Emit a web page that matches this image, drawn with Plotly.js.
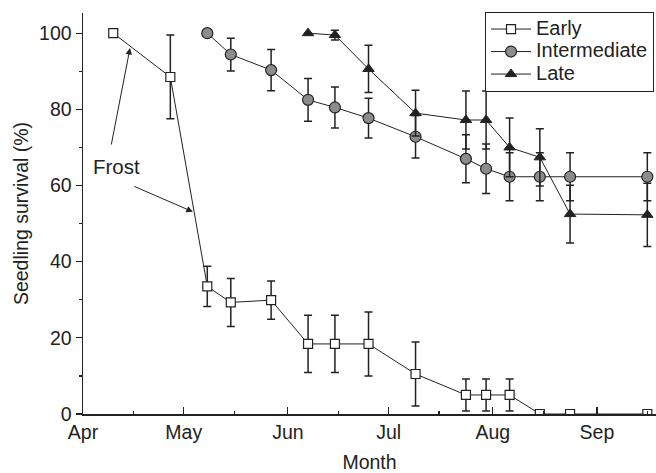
<!DOCTYPE html>
<html>
<head>
<meta charset="utf-8">
<script src="https://cdn.plot.ly/plotly-3.0.1.min.js"></script>
<style>html,body{margin:0;padding:0;background:#fff;}#chart{width:656px;height:473px;}</style>
</head>
<body>
<div id="chart"></div>
<script>
// Dates of census (x values)
const earlyDates = ['2000-04-10','2000-04-27','2000-05-08','2000-05-15','2000-05-27','2000-06-07','2000-06-15','2000-06-25','2000-07-09','2000-07-24','2000-07-30','2000-08-06','2000-08-15','2000-08-24','2000-09-16'];
const earlyValues = [100, 88.5, 33.5, 29.3, 29.9, 18.4, 18.4, 18.4, 10.5, 5, 5, 5, 0, 0, 0];
const earlyErr = [0, 11, 5.3, 6.3, 5, 7.5, 7.5, 8.4, 8.4, 4.2, 4.2, 4.2, 0, 0, 0];

const interDates = ['2000-05-08','2000-05-15','2000-05-27','2000-06-07','2000-06-15','2000-06-25','2000-07-09','2000-07-24','2000-07-30','2000-08-06','2000-08-15','2000-08-24','2000-09-16'];
const interValues = [100, 94.4, 90.3, 82.5, 80.5, 77.7, 72.8, 67, 64.4, 62.3, 62.3, 62.3, 62.3];
const interErr = [0, 4.3, 5.4, 5.6, 5.4, 5.2, 5.6, 6.3, 6.5, 6.3, 6.3, 6.3, 6.3];

const lateDates = ['2000-06-07','2000-06-15','2000-06-25','2000-07-09','2000-07-24','2000-07-30','2000-08-06','2000-08-15','2000-08-24','2000-09-16'];
const lateValues = [100, 99.5, 90.6, 79, 77.2, 77.2, 70, 67.4, 52.5, 52.3];
const lateErr = [0, 1.3, 6.2, 6, 7.6, 7.6, 7.7, 7.5, 7.6, 8.3];

const seriesNames = ['Early','Intermediate','Late'];
const monthTicks = ['2000-04-01','2000-05-01','2000-06-01','2000-07-01','2000-08-01','2000-09-01'];
const monthLabels = ['Apr','May','Jun','Jul','Aug','Sep'];
const midMonthTicks = ['2000-04-16','2000-05-16','2000-06-16','2000-07-16','2000-08-16','2000-09-16'];

const ink = '#222';
const fam = '"Liberation Sans", Arial, sans-serif';
const fs = 19.5;
const font = {family:fam, size:fs, color:ink};

function errBar(arr){ return {type:'data', array: arr, visible:true, color: ink, thickness:1.5, width:4}; }
function legendName(s){ return '<span style="font-size:20px">' + s + '</span>'; }

const traces = [
  {x: earlyDates, y: earlyValues, name: legendName(seriesNames[0]), mode:'lines+markers', type:'scatter',
   line:{color:ink, width:1},
   marker:{symbol:'square', size:9, color:'#fff', line:{color:ink, width:1.2}},
   error_y: errBar(earlyErr)},
  {x: interDates, y: interValues, name: legendName(seriesNames[1]), mode:'lines+markers', type:'scatter',
   line:{color:ink, width:1},
   marker:{symbol:'circle', size:11, color:'#8c8c8c', line:{color:ink, width:1.2}},
   error_y: errBar(interErr)},
  {x: lateDates, y: lateValues, name: legendName(seriesNames[2]), mode:'lines+markers', type:'scatter',
   line:{color:ink, width:1},
   marker:{symbol:'triangle-up', size:10, color:ink, line:{color:ink, width:1}},
   error_y: errBar(lateErr)}
];

const layout = {
  width:656, height:473,
  margin:{l:83, r:0, t:13, b:59},
  paper_bgcolor:'#fff', plot_bgcolor:'#fff',
  font: font,
  showlegend:true,
  legend:{x:0.7016, y:1.003, xanchor:'left', yanchor:'top', bgcolor:'#fff', bordercolor:ink, borderwidth:1,
          font:{family:fam, size:15, color:ink}, tracegroupgap:0, itemwidth:40},
  xaxis:{
    type:'date', range:['2000-04-01','2000-09-18 14:00'],
    tickmode:'array', tickvals: monthTicks, ticktext: monthLabels,
    ticks:'inside', ticklen:7, tickwidth:1.2, tickcolor:ink,
    minor:{tickmode:'array', tickvals: midMonthTicks, ticks:'inside', ticklen:3, tickwidth:1.2, tickcolor:ink},
    showline:true, linecolor:ink, linewidth:1.5, showgrid:false, zeroline:false,
    tickfont:font,
    title:{text:'Month', font:font, standoff:15}
  },
  yaxis:{
    range:[0,105.3], tickmode:'array', tickvals:[0,20,40,60,80,100],
    ticks:'outside', ticklen:6, tickwidth:1.2, tickcolor:ink,
    minor:{tickmode:'array', tickvals:[10,30,50,70,90], ticks:'outside', ticklen:3, tickwidth:1.2, tickcolor:ink},
    showline:true, linecolor:ink, linewidth:1.5, showgrid:false, zeroline:false,
    tickfont:font,
    title:{text:'Seedling survival (%)', font:font, standoff:5}
  },
  annotations:[
    {x:'2000-04-11 02:00', y:64.9, xref:'x', yref:'y', text:'Frost', showarrow:false,
     font:{family:fam, size:20.5, color:ink}},
    {x:'2000-04-15', y:96.1, xref:'x', yref:'y', text:'', showarrow:true, ax:-19, ay:98,
     arrowhead:2, arrowsize:1.3, arrowwidth:1, arrowcolor:ink},
    {x:'2000-05-03 17:00', y:53.1, xref:'x', yref:'y', text:'', showarrow:true, ax:-60, ay:-26,
     arrowhead:2, arrowsize:1.3, arrowwidth:1, arrowcolor:ink}
  ]
};

Plotly.newPlot('chart', traces, layout, {displayModeBar:false, staticPlot:true});
</script>
</body>
</html>
